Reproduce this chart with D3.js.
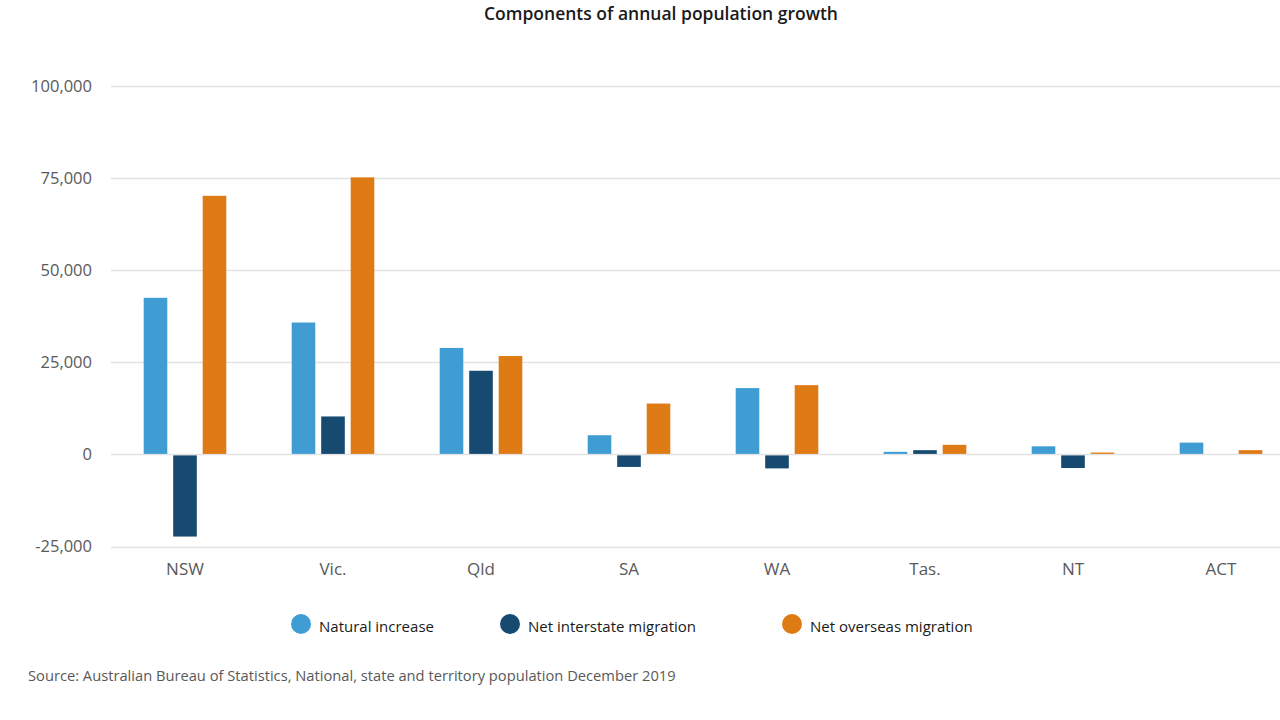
<!DOCTYPE html>
<html>
<head>
<meta charset="utf-8">
<script src="https://cdn.jsdelivr.net/npm/d3@7"></script>
<style>
  html, body { margin: 0; padding: 0; background: #ffffff; }
  svg { display: block; }
  text { font-family: "Open Sans", "Noto Sans", sans-serif; }
</style>
</head>
<body>
<svg id="chart" width="1280" height="720"></svg>
<script>
const states = ["NSW", "Vic.", "Qld", "SA", "WA", "Tas.", "NT", "ACT"];
const seriesNames = ["Natural increase", "Net interstate migration", "Net overseas migration"];
const naturalIncrease = [42500, 35800, 28900, 5200, 18000, 700, 2200, 3200];
const netInterstate = [-22300, 10300, 22700, -3400, -3800, 1150, -3700, 0];
const netOverseas = [70200, 75200, 26700, 13800, 18800, 2600, 500, 1150];
const yTicks = [-25000, 0, 25000, 50000, 75000, 100000];
const colors = ["#3f9dd4", "#164a71", "#df7b15"];

const seriesValues = [naturalIncrease, netInterstate, netOverseas];

const svg = d3.select("#chart");

const x = d3.scaleBand().domain(states).range([111, 1295]).padding(0);
const xInner = d3.scaleBand().domain(seriesNames).range([-41.3, 41.3]).paddingInner(0.2);
const y = d3.scaleLinear().domain([-25000, 100000]).range([546.5, 86]);

// Title
svg.append("text")
  .attr("x", 661).attr("y", 20)
  .attr("text-anchor", "middle")
  .attr("font-size", 17.5)
  .attr("font-weight", 600)
  .attr("fill", "#1a1a1a")
  .text("Components of annual population growth");

// Y axis
const fmt = d3.format(",");
const yAxis = d3.axisLeft(y).tickValues(yTicks).tickSize(0).tickPadding(0)
  .tickFormat(d => fmt(d).replace("\u2212", "-"));
const gY = svg.append("g").attr("transform", "translate(92,0)").call(yAxis);
gY.select(".domain").remove();
gY.selectAll("text").attr("font-size", 16.5).attr("fill", "#595959")
  .attr("font-family", "'Open Sans', sans-serif");

// Gridlines
svg.append("g").selectAll("line").data(yTicks).join("line")
  .attr("x1", 111).attr("x2", 1280)
  .attr("y1", d => Math.round(y(d)) + 0.5).attr("y2", d => Math.round(y(d)) + 0.5)
  .attr("stroke", "#e3e3e3").attr("stroke-width", 1.5);

// Bars
const groups = svg.append("g").selectAll("g").data(states).join("g")
  .attr("transform", d => `translate(${x(d) + x.bandwidth() / 2},0)`);

groups.selectAll("rect")
  .data((s, i) => seriesNames.map((n, k) => ({ name: n, value: seriesValues[k][i], k })))
  .join("rect")
  .attr("x", d => xInner(d.name))
  .attr("width", xInner.bandwidth())
  .attr("y", d => d.value >= 0 ? y(d.value) : y(0) + 1)
  .attr("height", d => d.value >= 0 ? Math.max(0, y(0) - 0.5 - y(d.value)) : Math.max(0, y(d.value) - y(0) - 1))
  .attr("fill", d => colors[d.k]);

// X axis labels
const xAxis = d3.axisBottom(x).tickSize(0).tickPadding(0);
const gX = svg.append("g").attr("transform", "translate(0,563)").call(xAxis);
gX.select(".domain").remove();
gX.selectAll("text").attr("font-size", 17).attr("fill", "#595959")
  .attr("font-family", "'Open Sans', sans-serif");

// Legend
const legendX = [301, 510, 792];
const legend = svg.append("g").selectAll("g").data(seriesNames).join("g")
  .attr("transform", (d, i) => `translate(${legendX[i]},624)`);
legend.append("circle").attr("r", 10).attr("fill", (d, i) => colors[i]);
legend.append("text").attr("x", 18).attr("y", 8)
  .attr("font-size", 15).attr("font-weight", 500).attr("fill", "#1a1a1a").text(d => d);

// Source
svg.append("text")
  .attr("x", 28).attr("y", 681)
  .attr("font-size", 14.7).attr("fill", "#595959")
  .text("Source: Australian Bureau of Statistics, National, state and territory population December 2019");
</script>
</body>
</html>
